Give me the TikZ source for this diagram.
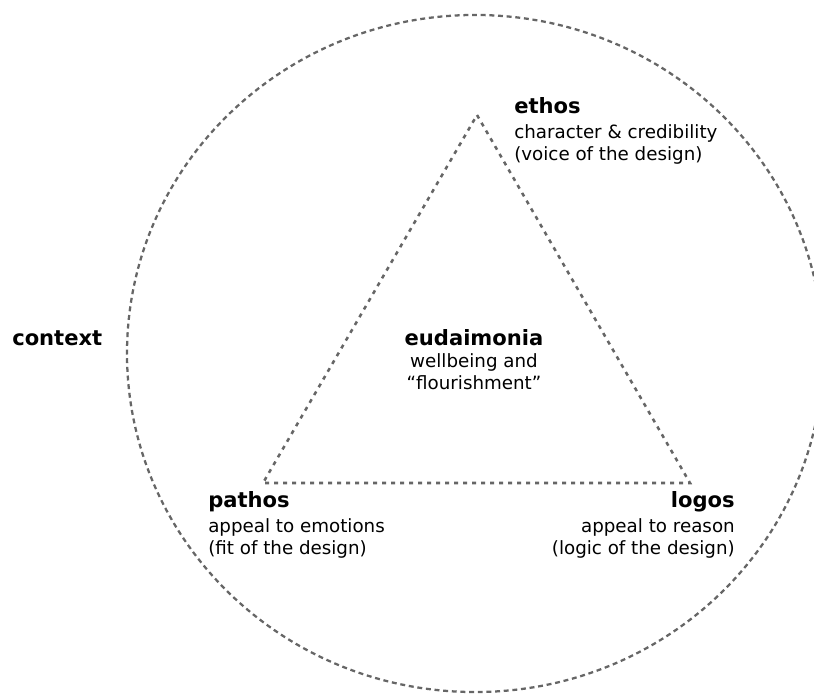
\documentclass[tikz,border=0pt]{standalone}
\usepackage{fontspec}
\setmainfont{DejaVu Sans}
\usepackage{tikz}
\usepackage{xcolor}

\definecolor{dashgray}{HTML}{666666}
\tikzset{
  txt/.style={inner sep=0pt,font=\fontsize{13.7}{16.5}\selectfont},
  ring/.style={dashgray,line width=1.7pt,dash pattern=on 3.7pt off 2.8pt},
  tri/.style={dashgray,line width=1.9pt,dash pattern=on 3pt off 3.75pt},
}
\newcommand{\ttl}[1]{{\bfseries\fontsize{15.8}{16.5}\selectfont #1}}

\begin{document}
\begin{tikzpicture}[x=0.75pt,y=-0.75pt]
  \useasboundingbox (0,0) rectangle (814,693);
  % context (outer ring)
  \draw[ring] (475,353.5) ellipse [x radius=261pt, y radius=253.9pt];
  % triangle corners
  \coordinate (ethosV) at (477,115);
  \coordinate (pathosV) at (263,483);
  \coordinate (logosV) at (690,483);
  \draw[tri] (ethosV) -- (logosV) -- (pathosV) -- cycle;
  % labels
  \node[txt,anchor=base west] (context) at (12,345) {\ttl{context}};
  \node[txt,anchor=north west,align=left] (ethos) at (514,97)
    {\ttl{ethos}\\[2.2pt] character \& credibility\\ (voice of the design)};
  \node[txt,anchor=north west,align=left] (pathos) at (208,491)
    {\ttl{pathos}\\[2.2pt] appeal to emotions\\ (fit of the design)};
  \node[txt,anchor=north east,align=right] (logos) at (735,491)
    {\ttl{logos}\\[2.2pt] appeal to reason\\ (logic of the design)};
  \node[txt,anchor=north,align=center] (eudaimonia) at (474,329)
    {\ttl{eudaimonia}\\ wellbeing and\\ “flourishment”};
\end{tikzpicture}
\end{document}
